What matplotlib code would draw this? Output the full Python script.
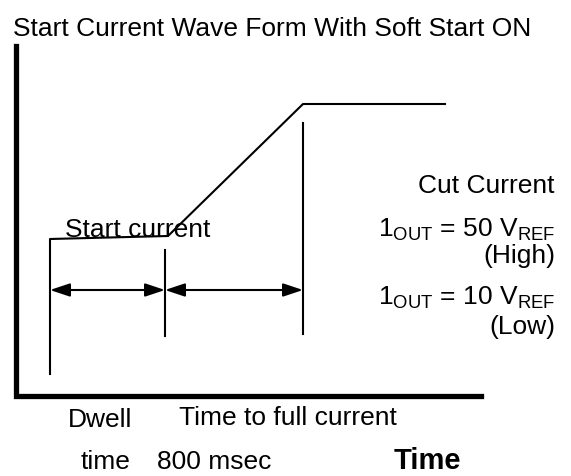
import matplotlib
matplotlib.use("Agg")
import matplotlib.pyplot as plt

plt.rcParams['font.family'] = ['Liberation Sans', 'DejaVu Sans']
plt.rcParams['mathtext.fontset'] = 'custom'
plt.rcParams['mathtext.rm'] = 'Liberation Sans'
plt.rcParams['mathtext.it'] = 'Liberation Sans:italic'
plt.rcParams['mathtext.bf'] = 'Liberation Sans:bold'

# diagram geometry, in picture units (x right, y down)
axis_x = [15.5, 15.5, 481]
axis_y = [46, 396, 396]

wave_x = [50, 50, 168, 303, 445]
wave_y = [374, 239, 236, 104, 104]

mid_marker_x = [165, 165]
mid_marker_y = [250, 336]
end_marker_x = [303, 303]
end_marker_y = [123, 334]

arrow_y = 290
dwell_span = (50, 165)
ramp_span = (165, 303)

W, H = 571, 476
fig = plt.figure(figsize=(W / 100, H / 100), dpi=100)
ax = fig.add_axes([0, 0, 1, 1])
ax.set_xlim(0, W)
ax.set_ylim(H, 0)
ax.axis('off')

fs = 19

# axes of the sketch
ax.plot(axis_x, axis_y, color='black', lw=3.8, solid_joinstyle='miter')

# current waveform
ax.plot(wave_x, wave_y, color='black', lw=1.5)
ax.plot(mid_marker_x, mid_marker_y, color='black', lw=1.5)
ax.plot(end_marker_x, end_marker_y, color='black', lw=1.5)

# dimension arrows
for a, b in (dwell_span, ramp_span):
    ax.annotate('', xy=(a, arrow_y), xytext=(b, arrow_y),
                arrowprops=dict(arrowstyle='<|-|>,head_length=0.6,head_width=0.2',
                                color='black', lw=1.5,
                                mutation_scale=20, shrinkA=0, shrinkB=0))

# texts
ax.text(13, 36, 'Start Current Wave Form With Soft Start ON', fontsize=fs, va='baseline')
ax.text(65, 237, 'Start current', fontsize=fs, va='baseline')

rx = 555
ax.text(rx, 193, 'Cut Current', fontsize=fs, va='baseline', ha='right')
ax.text(rx, 237, r'1$_\mathrm{OUT}$ = 50 V$_\mathrm{REF}$', fontsize=fs, va='baseline', ha='right')
ax.text(rx, 263, '(High)', fontsize=fs, va='baseline', ha='right')
ax.text(rx, 305, r'1$_\mathrm{OUT}$ = 10 V$_\mathrm{REF}$', fontsize=fs, va='baseline', ha='right')
ax.text(rx, 334, '(Low)', fontsize=fs, va='baseline', ha='right')

ax.text(68, 427, 'Dwell', fontsize=fs, va='baseline')
ax.text(179, 425, 'Time to full current', fontsize=fs, va='baseline')
ax.text(81, 469, 'time', fontsize=fs, va='baseline')
ax.text(157, 469, '800 msec', fontsize=fs, va='baseline')
ax.text(394, 469, 'Time', fontsize=fs + 2, va='baseline', fontweight='bold')

fig.savefig('out.png', dpi=100)
